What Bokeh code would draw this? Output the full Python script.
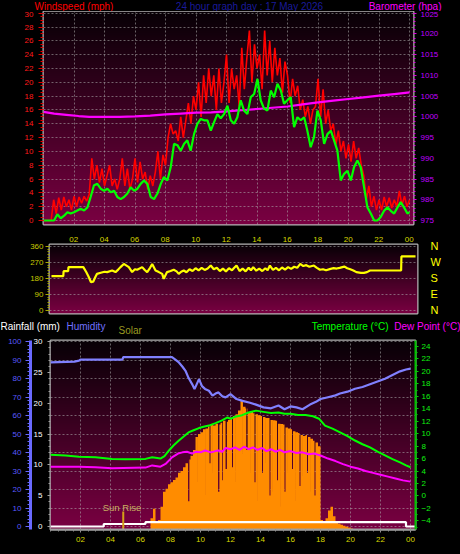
import numpy as np
from bokeh.plotting import figure
from bokeh.models import Range1d, LinearAxis, FixedTicker, Label
from bokeh.layouts import column
from bokeh.embed import file_html
from bokeh.resources import INLINE

FONT = "Liberation Sans"

# ------------------------------------------------------------------ data
date_text = "17 May 2026"
hour_ticks = [2, 4, 6, 8, 10, 12, 14, 16, 18, 20, 22, 24]
hour_text = ["02", "04", "06", "08", "10", "12", "14", "16", "18", "20", "22", "00"]

# wind gust (mph), one reading every 10 minutes from 00:00 to 24:00
wind_gust = [
    0, 0, 0, 0, 3.0, 1.0,
    3.3, 1.5, 3.4, 2.0, 3.0, 1.5,
    3.5, 2.0, 3.4, 2.5, 3.5, 2.8,
    3.8, 9.0, 6.0, 8.0, 5.5, 7.5,
    5.0, 6.5, 8.0, 5.0, 6.0, 4.5,
    6.0, 9.0, 5.0, 7.5, 4.5, 6.0,
    9.0, 5.5, 8.5, 6.0, 7.0, 4.5,
    6.5, 5.0, 7.0, 10.0, 6.0, 9.5,
    8.0, 12.0, 14.0, 12.5, 13.0, 11.5,
    15.0, 12.0, 14.5, 17.0, 14.0, 18.0,
    16.0, 20.0, 15.0, 21.0, 17.0, 22.0,
    18.0, 21.0, 16.0, 22.0, 17.0, 20.0,
    24.0, 17.0, 22.0, 19.0, 21.0, 16.5,
    25.0, 19.0, 23.5, 27.5, 20.0, 25.5,
    22.0, 24.0, 19.0, 27.5, 21.0, 26.0,
    20.0, 25.0, 21.0, 23.5, 18.5, 23.0,
    21.0, 17.0, 20.5, 18.0, 19.5, 16.0,
    17.5, 15.0, 16.5, 14.0, 16.0, 16.5,
    20.5, 15.0, 19.0, 14.0, 16.0, 13.0,
    14.0, 11.0, 13.0, 10.0, 11.5, 9.0,
    11.0, 8.5, 11.5, 9.0, 10.5, 8.0,
    6.5, 3.0, 5.0, 2.0, 3.5, 1.5,
    3.0, 1.5, 3.4, 2.0, 3.3, 1.8,
    3.0, 2.0, 4.3, 2.2, 3.5, 2.0,
    3.0,
]
gust_hours = [i / 6 for i in range(len(wind_gust))]

wind_avg_hours = [0.0, 0.69, 0.91, 1.13, 1.35, 1.57, 1.78, 2.0, 2.22, 2.44, 2.66, 2.88,
                  3.09, 3.31, 3.53, 3.75, 3.97, 4.19, 4.41, 4.63, 4.84, 5.06, 5.28, 5.5,
                  5.72, 5.94, 6.16, 6.37, 6.59, 6.81, 7.03, 7.25, 7.47, 7.69, 7.9, 8.12,
                  8.34, 8.56, 8.78, 9.0, 9.22, 9.43, 9.65, 9.87, 10.09, 10.31, 10.53, 10.75,
                  10.97, 11.18, 11.4, 11.62, 11.84, 12.06, 12.28, 12.5, 12.71, 12.93, 13.15,
                  13.37, 13.59, 13.81, 14.03, 14.24, 14.46, 14.68, 14.9, 15.12, 15.34, 15.56,
                  15.77, 15.99, 16.21, 16.43, 16.65, 16.87, 17.09, 17.3, 17.52, 17.74, 17.96,
                  18.18, 18.4, 18.62, 18.84, 19.05, 19.27, 19.49, 19.71, 19.93, 20.15, 20.36,
                  20.58, 20.8, 21.02, 21.24, 21.46, 21.68, 21.89, 22.11, 22.33, 22.55, 22.77,
                  22.99, 23.21, 23.42, 23.64, 23.86, 24.0]
wind_avg = [0.0, 0.0, 0.9, 0.3, 0.7, 1.2, 1.0, 1.2, 1.45, 1.7, 1.45, 1.9,
            3.4, 5.1, 5.3, 4.6, 4.3, 4.6, 4.1, 4.3, 3.4, 3.1, 3.4, 3.9,
            4.8, 4.3, 4.6, 5.3, 5.8, 5.3, 3.4, 3.1, 3.9, 5.3, 6.3, 5.8,
            7.7, 11.1, 10.9, 10.1, 11.1, 11.6, 10.1, 12.5, 14.0, 14.7, 14.5, 14.5,
            13.0, 14.2, 15.4, 14.8, 15.4, 16.6, 14.5, 14.0, 14.95, 17.4, 15.9,
            15.4, 17.85, 18.3, 20.5, 17.4, 16.2, 15.9, 18.8, 17.85, 19.8, 18.8,
            16.9, 17.4, 17.85, 13.5, 14.95, 14.5, 14.95, 13.0, 10.6, 12.1, 15.9,
            14.5, 11.1, 12.5, 13.0, 11.6, 10.1, 5.8, 6.75, 7.2, 5.8, 7.7,
            8.7, 7.7, 4.8, 1.9, 1.0, 0.0, 0.0, 0.5, 1.4, 1.9, 1.4,
            1.0, 1.9, 2.65, 1.9, 1.0, 1.2]

baro_hours = [0, 0.7, 1.5, 2.3, 3, 4, 5, 6, 7, 8, 9, 10, 11, 12, 13, 14, 15, 16, 17,
              18, 19, 20, 21, 22, 23, 24]
baro_hpa = [1001.2, 1000.8, 1000.5, 1000.2, 1000.0, 1000.0, 1000.0, 1000.1, 1000.3,
            1000.6, 1000.8, 1001.0, 1001.1, 1001.3, 1001.6, 1001.9, 1002.2, 1002.5,
            1003.0, 1003.5, 1003.9, 1004.3, 1004.7, 1005.1, 1005.5, 1005.9]

dir_hours = [0, 0.78, 0.8, 1.1, 1.12, 2.1, 2.3, 2.45, 2.6, 2.75, 2.9, 3.0, 3.25, 3.5, 3.67,
             4.0, 4.22, 4.4, 4.55, 4.77, 5.1, 5.32, 5.5, 5.65, 5.98, 6.15, 6.31, 6.5, 6.64,
             6.86, 7.08, 7.3, 7.4, 7.62, 7.85, 8.06, 8.25, 8.39, 8.55, 8.72, 8.9, 9.1, 9.3,
             9.5, 9.7, 9.9, 10.1, 10.3, 10.5, 10.7, 10.9, 11.1, 11.3, 11.5, 11.7, 11.9,
             12.05, 12.2, 12.4, 12.6, 12.8, 13.0, 13.15, 13.3, 13.5, 13.7, 13.9, 14.1,
             14.25, 14.4, 14.6, 14.8, 15.0, 15.2, 15.4, 15.6, 15.8, 16.0, 16.2, 16.4,
             16.6, 16.8, 17.0, 17.3, 17.5, 17.7, 17.9, 18.1, 18.4, 18.6, 18.8, 19.0,
             19.3, 19.5, 19.7, 19.9, 20.1, 20.4, 20.6, 20.8, 21.0, 23.05, 23.07, 24.0]
dir_deg = [193, 193, 221, 221, 244, 244, 215, 190, 160, 162, 190, 206, 212, 218, 216,
           225, 216, 230, 244, 262, 244, 216, 232, 229, 244, 228, 216, 240, 262,
           225, 216, 206, 178, 216, 222, 229, 220, 206, 218, 225, 215, 232, 222,
           238, 226, 240, 228, 236, 253, 232, 240, 222, 236, 220, 238, 226,
           240, 253, 222, 236, 220, 240, 226, 244, 224, 236, 222, 238,
           226, 253, 228, 240, 226, 242, 230, 244, 234, 246, 240, 262,
           250, 255, 246, 253, 240, 229, 232, 226, 234, 238, 236, 240,
           247, 238, 232, 225, 216, 212, 212, 216, 225, 225, 304, 304]

hum_hours = [0, 1.6, 1.9, 2.0, 4.8, 4.85, 8.1, 8.3, 8.56, 8.8, 9.0, 9.2, 9.44, 9.6, 9.9,
             10.1, 10.3, 10.56, 10.8, 11.0, 11.2, 11.45, 11.67, 12.0, 12.4, 12.8, 13.3,
             13.7, 14.2, 14.7, 15.2, 15.6, 16.0, 16.4, 16.8, 17.3, 17.7, 18.0, 18.5,
             19.0, 19.3, 19.8, 20.3, 20.8, 21.3, 21.8, 22.3, 22.8, 23.3, 23.7, 24.0]
humidity = [88.9, 89.3, 89.8, 90.4, 90.4, 91.7, 91.7, 90.5, 88.8, 86.5, 84.3, 80.5, 77.1,
            74.4, 79.8, 76.0, 74.5, 73.5, 70.8, 72.0, 72.6, 70.5, 69.9, 71.7, 69.0, 68.0,
            67.0, 66.0, 64.5, 64.0, 65.5, 63.5, 65.0, 64.5, 63.5, 66.0, 67.5, 69.0, 70.0,
            71.0, 72.0, 73.0, 74.6, 75.5, 77.0, 78.5, 80.0, 82.0, 84.0, 85.0, 85.5]

temp_hours = [0, 1.0, 1.9, 3.0, 4.1, 5.0, 6.33, 6.78, 7.33, 7.6, 7.9, 8.2, 8.56, 8.9, 9.2,
              9.5, 9.9, 10.2, 10.56, 11.0, 11.4, 11.8, 12.0, 12.3, 12.7, 13.2, 13.7, 14.2,
              14.7, 15.2, 15.6, 16.0, 16.5, 17.0, 17.5, 17.9, 18.3, 18.8, 19.3, 19.8, 20.3,
              20.8, 21.3, 21.8, 22.3, 22.8, 23.3, 23.7, 24.0]
temperature = [6.6, 6.5, 6.3, 6.2, 5.95, 5.9, 5.95, 6.2, 6.0, 6.4, 7.3, 8.1, 8.9, 9.6, 10.2,
               10.5, 10.9, 11.1, 11.3, 11.7, 12.1, 12.6, 12.4, 12.7, 12.9, 13.4, 13.7, 13.5,
               13.3, 13.4, 13.2, 13.2, 13.0, 13.0, 12.8, 12.4, 11.3, 10.8, 10.2, 9.6, 8.9,
               8.3, 7.8, 7.1, 6.5, 5.9, 5.4, 4.9, 4.6]

dew_hours = [0, 1.9, 3.0, 4.1, 6.33, 6.78, 7.33, 7.7, 8.1, 8.5, 8.8, 9.1, 9.44, 9.7, 10.0,
             10.3, 10.7, 11.0, 11.2, 11.45, 11.67, 12.0, 12.3, 12.6, 12.9, 13.2, 13.5, 13.8,
             14.1, 14.4, 14.7, 15.0, 15.3, 15.6, 16.0, 16.4, 16.8, 17.2, 17.6, 18.0, 18.5,
             19.0, 19.5, 20.0, 20.5, 21.0, 21.5, 22.0, 22.5, 23.0, 23.5, 24.0]
dew_point = [4.7, 4.7, 4.6, 4.45, 4.55, 4.9, 4.7, 5.2, 6.2, 6.8, 7.0, 7.1, 6.8, 7.1, 7.0,
             7.3, 7.0, 7.2, 7.3, 7.1, 7.7, 7.5, 7.8, 7.4, 7.9, 7.5, 7.8, 7.4,
             7.7, 7.2, 7.5, 7.1, 7.4, 7.0, 7.2, 6.9, 7.0, 6.7, 6.8, 6.5, 6.0,
             5.6, 5.1, 4.7, 4.4, 4.0, 3.7, 3.4, 3.1, 2.8, 2.5, 2.3]

# solar radiation (W/m2): clear-sky readings every 10 minutes from 06:30 ...
solar_start_hour = 6.5
solar = [0, 60, 110, 40, 50, 120,
         200, 215, 240, 250, 262, 275,
         300, 310, 330, 350, 370, 390,
         420, 490, 505, 515, 530, 535,
         545, 555, 550, 560, 555, 565,
         575, 570, 580, 590, 600, 610,
         630, 680, 650, 640, 620, 625,
         615, 610, 605, 600, 595, 590,
         590, 580, 578, 575, 560, 558,
         555, 540, 535, 530, 520, 515,
         510, 500, 495, 500, 490, 480,
         470, 460, 440, 50, 40, 60,
         100, 120, 70, 40, 30, 25,
         20, 15, 10, 5, 0]
# ... and the short drops when clouds passed
cloud_hours = [9.17, 9.83, 10.33, 10.6, 10.83, 11.17, 11.45, 11.67, 12.1, 12.33, 12.83,
               13.05, 13.33, 13.6, 13.83, 14.1, 14.33, 14.6, 14.83, 15.1, 15.33, 15.6,
               15.83, 16.1, 16.33, 16.6, 16.83, 17.1, 17.33, 17.6]
cloud_solar = [150, 250, 180, 350, 300, 200, 260, 320, 330, 250, 400,
               420, 300, 250, 150, 300, 350, 180, 200, 260, 120, 200,
               300, 320, 150, 230, 280, 300, 200, 180]

rain_hours = [0, 3.55, 6.33, 23.7, 24.33]
rain_mm = [0.0, 0.4, 0.7, 0.0, 0.0]

sunrise_hour = 4.85

# ------------------------------------------------------------------ helpers
W = 460


def gradient(n=220, bottom=(122, 0, 66), top=(8, 0, 6)):
    img = np.zeros((n, 1), dtype=np.uint32)
    v = img.view(dtype=np.uint8).reshape((n, 1, 4))
    for i in range(n):
        f = i / (n - 1)
        v[i, 0, 0] = int(bottom[0] + (top[0] - bottom[0]) * f)
        v[i, 0, 1] = int(bottom[1] + (top[1] - bottom[1]) * f)
        v[i, 0, 2] = int(bottom[2] + (top[2] - bottom[2]) * f)
        v[i, 0, 3] = 255
    return img


def add_background(p):
    xr, yr = p.x_range, p.y_range
    p.image_rgba(image=[gradient()], x=xr.start, y=yr.start,
                 dw=xr.end - xr.start, dh=yr.end - yr.start, level="image")


def style_axis(ax, label_color, tick_color, size="8px", tick_out=4, minor_out=2,
               standoff=4, line_color=None, line_width=1):
    ax.major_label_text_color = label_color
    ax.major_label_text_font = FONT
    ax.major_label_text_font_size = size
    ax.major_tick_line_color = tick_color
    ax.minor_tick_line_color = tick_color
    ax.major_tick_out = tick_out
    ax.major_tick_in = 0
    ax.minor_tick_out = minor_out
    ax.minor_tick_in = 0
    ax.major_label_standoff = standoff
    ax.axis_line_color = line_color
    ax.axis_line_width = line_width


def style_grid(g, ticks):
    g.ticker = FixedTicker(ticks=ticks)
    g.grid_line_color = "#b0b0b0"
    g.grid_line_alpha = 0.55
    g.grid_line_dash = "2 2"
    g.grid_line_width = 1


def text(p, x, y, s, color, size="10px", align="left"):
    p.add_layout(Label(x=x, y=y, text=s, text_color=color, text_font=FONT,
                       text_font_size=size, text_align=align, text_baseline="middle"))


def make_fig(height, xr, yr, left, right, top, bottom, outline="#b4b4b4"):
    p = figure(width=W, height=height, x_range=xr, y_range=yr,
               output_backend="svg", toolbar_location=None,
               x_axis_location=None, y_axis_location=None,
               min_border_left=left, min_border_right=right,
               min_border_top=top, min_border_bottom=bottom,
               background_fill_color="black", border_fill_color="black",
               outline_line_color=outline, outline_line_width=2)
    p.frame_align = False
    return p


def title_bar(height):
    # a strip whose data units are page pixels (y grows downward)
    p = make_fig(height, Range1d(0, W), Range1d(height, 0), 0, 0, 0, 0, outline=None)
    p.xgrid[0].visible = False
    p.ygrid[0].visible = False
    return p


hour_labels = dict(zip(hour_ticks, hour_text))
half_hours = [i / 2 for i in range(0, 49)]

# ------------------------------------------------------------------ title strip (page y 0..11)
bar1 = title_bar(11)
text(bar1, 34, 5.3, "Windspeed (mph)", "#ff0000")
text(bar1, 249, 5.3, "24 hour graph day : " + date_text, "#1a1a9a", align="center")
text(bar1, 441, 5.3, "Barometer (hpa)", "#ff00ff", align="right")

# ------------------------------------------------------------------ top panel (wind / barometer)
top = make_fig(219, Range1d(0.0, 24.26), Range1d(-0.58, 30.245), 43, 47, 0, 6)
top.extra_y_ranges = {"baro": Range1d(974.04, 1025.41)}
add_background(top)
style_grid(top.xgrid[0], hour_ticks)
style_grid(top.ygrid[0], list(range(0, 31, 2)))

ax = LinearAxis(ticker=FixedTicker(ticks=list(range(0, 31, 2)),
                                   minor_ticks=[i / 2 for i in range(0, 61)]))
style_axis(ax, "#ff1a1a", "#e00000", tick_out=5, minor_out=3, standoff=5)
top.add_layout(ax, "left")
ax = LinearAxis(y_range_name="baro",
                ticker=FixedTicker(ticks=list(range(975, 1026, 5)), minor_ticks=list(range(975, 1026))))
style_axis(ax, "#c000ff", "#e000e0", tick_out=3, minor_out=2, standoff=4)
top.add_layout(ax, "right")

top.line(gust_hours, wind_gust, line_color="#ff0000", line_width=1.6)
top.line(baro_hours, baro_hpa, y_range_name="baro", line_color="#ff00ff", line_width=2.2)
top.line(wind_avg_hours, wind_avg, line_color="#00ff00", line_width=2.2)

# ------------------------------------------------------------------ middle panel (wind direction)
mid = make_fig(88, Range1d(-0.13, 24.13), Range1d(-16.9, 371.25), 49, 43, 14, 5)
mid.extra_x_ranges = {"clock": Range1d(0.41, 24.54)}
add_background(mid)
mid.xgrid[0].visible = False
style_grid(mid.ygrid[0], [0, 90, 180, 270, 360])

ax = LinearAxis(x_range_name="clock", ticker=FixedTicker(ticks=hour_ticks),
                major_label_overrides=hour_labels)
style_axis(ax, "#d8d800", None, tick_out=0, minor_out=0, standoff=3)
mid.add_layout(ax, "above")

ax = LinearAxis(ticker=FixedTicker(ticks=[0, 90, 180, 270, 360],
                                   minor_ticks=list(range(0, 361, 15))))
style_axis(ax, "#c8c800", "#a8a800", tick_out=4, minor_out=2, standoff=2)
mid.add_layout(ax, "left")

ax = LinearAxis(ticker=FixedTicker(ticks=[0, 90, 180, 270, 360]),
                major_label_overrides={0: "N", 90: "E", 180: "S", 270: "W", 360: "N"})
style_axis(ax, "#ffff00", None, size="11px", tick_out=0, minor_out=0, standoff=13)
mid.add_layout(ax, "right")

mid.line(dir_hours, dir_deg, line_color="#ffff00", line_width=2.2)

# ------------------------------------------------------------------ title strip (page y 318..336)
bar2 = title_bar(18)
text(bar2, 0, 8, "Rainfall (mm)", "#ffffff")
text(bar2, 66, 8, "Humidity", "#7070ff")
text(bar2, 118, 12.3, "Solar", "#9a9a20")
text(bar2, 388, 8, "Temperature (°C)", "#00ff00", align="right")
text(bar2, 460, 8, "Dew Point (°C)", "#ff00ff", align="right")

# ------------------------------------------------------------------ bottom panel
bot = make_fig(218, Range1d(0.0, 24.333), Range1d(-1.62, 100.7), 50, 45, 4, 25)
bot.extra_y_ranges = {"rain": Range1d(-0.49, 30.21), "temp": Range1d(-5.39, 24.96),
                      "solar": Range1d(0, 1000)}
add_background(bot)
style_grid(bot.xgrid[0], hour_ticks)
style_grid(bot.ygrid[0], list(range(0, 101, 10)))

ax = LinearAxis(y_range_name="rain",
                ticker=FixedTicker(ticks=list(range(0, 31, 5)), minor_ticks=list(range(0, 31))))
style_axis(ax, "#ffffff", "#a0a0a0", tick_out=3, minor_out=2, standoff=5)
bot.add_layout(ax, "left")
ax = LinearAxis(ticker=FixedTicker(ticks=list(range(0, 101, 10)), minor_ticks=list(range(0, 101, 2))))
style_axis(ax, "#5a5aff", "#6868ff", tick_out=5, minor_out=3, standoff=4,
           line_color="#6a6aff", line_width=3)
bot.add_layout(ax, "left")
ax = LinearAxis(y_range_name="temp",
                ticker=FixedTicker(ticks=list(range(-4, 25, 2)), minor_ticks=list(range(-5, 26))))
style_axis(ax, "#10f010", "#00d000", tick_out=3, minor_out=2, standoff=3,
           line_color="#00c000", line_width=2)
bot.add_layout(ax, "right")
ax = LinearAxis(ticker=FixedTicker(ticks=hour_ticks, minor_ticks=half_hours),
                major_label_overrides=hour_labels)
style_axis(ax, "#d8d800", "#909090", tick_out=3, minor_out=2, standoff=4,
           line_color="#a0a0a0", line_width=2)
bot.add_layout(ax, "below")

# merge the 10-minute readings with the short cloud drops (step rendering)
solar_pts = [(solar_start_hour + i / 6, v) for i, v in enumerate(solar)]
for t, v in zip(cloud_hours, cloud_solar):
    i = int(round((t - solar_start_hour) * 6))
    solar_pts.append((t, v))
    solar_pts.append((t + 0.09, solar[i]))
solar_pts.sort()
bot.varea_step(x=[t for t, _ in solar_pts], y1=[0] * len(solar_pts),
               y2=[v for _, v in solar_pts], step_mode="after",
               y_range_name="solar", fill_color="#ff8c00")
bot.line(hum_hours, humidity, line_color="#8080ff", line_width=2.2)
bot.line(temp_hours, temperature, y_range_name="temp", line_color="#00ff00", line_width=2)
bot.line(dew_hours, dew_point, y_range_name="temp", line_color="#ff00ff", line_width=2)
bot.step(rain_hours, rain_mm, y_range_name="rain", mode="after", line_color="#ffffff",
         line_width=2.2)


def bot_xy(px, py):
    return (px - 50) / 15, (526 - py) / 1.847


_, sun_top = bot_xy(0, 511)
bot.segment(x0=[sunrise_hour], y0=[bot.y_range.start], x1=[sunrise_hour], y1=[sun_top],
            line_color="#d4a017", line_width=2)
x, y = bot_xy(121.5, 507)
text(bot, x, y, "Sun Rise", "#c8b060", size="9.5px", align="center")

layout = column(bar1, top, mid, bar2, bot, styles={"background-color": "black"})
open("out.html", "w").write(file_html(layout, INLINE))
